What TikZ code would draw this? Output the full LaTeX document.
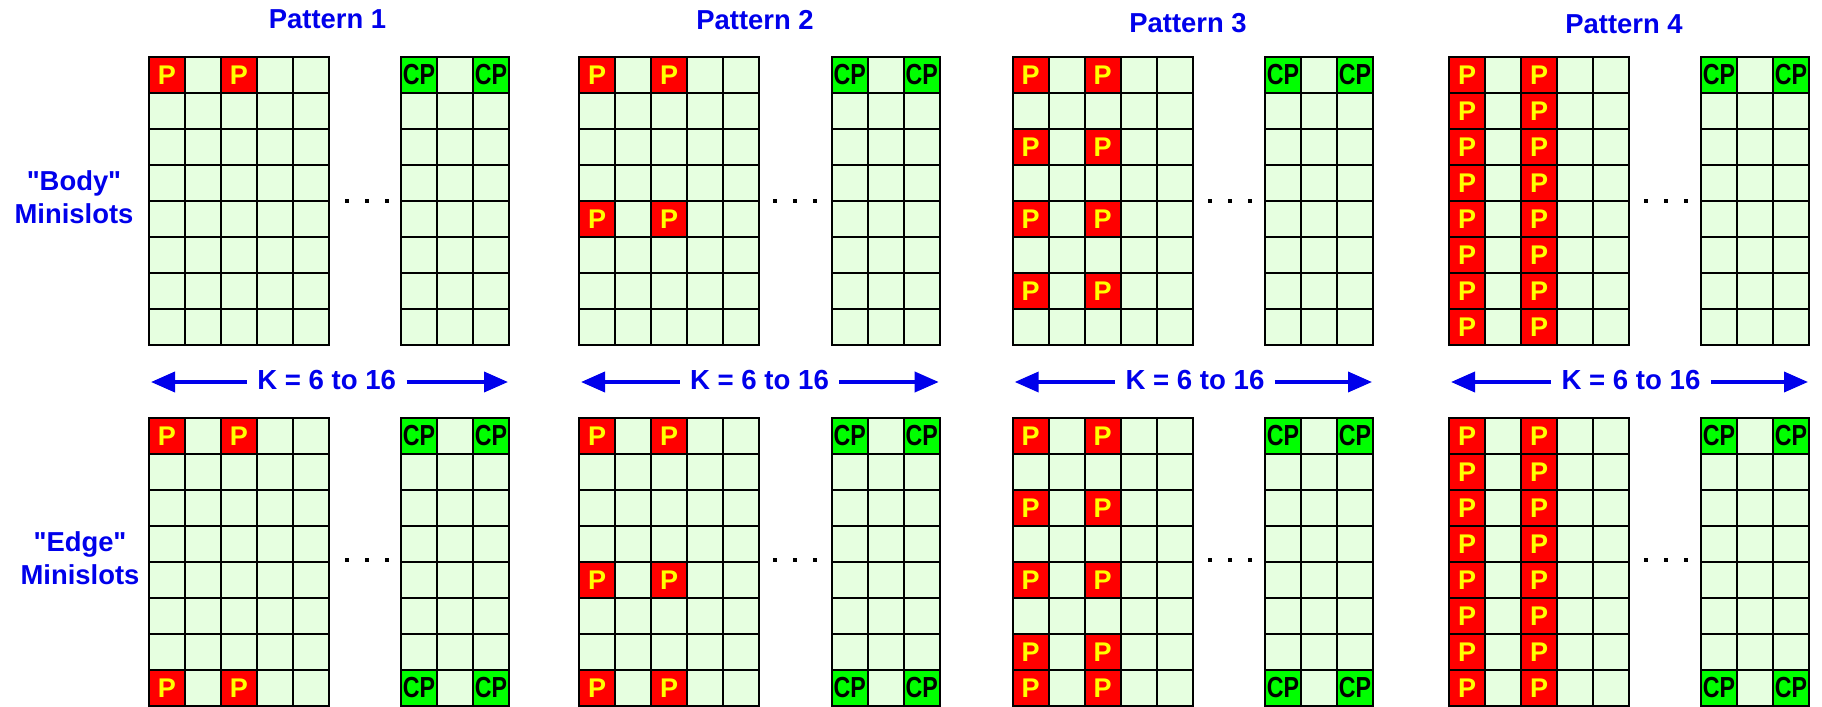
\documentclass[tikz,border=0pt]{standalone}
\usepackage{fontspec}
\setmainfont{Liberation Sans}[Ligatures=TeXOff]
\usepackage{graphicx}
\usetikzlibrary{arrows.meta}

\definecolor{slotgreen}{RGB}{230,255,224}
\definecolor{pred}{RGB}{255,0,0}
\definecolor{pyellow}{RGB}{255,255,0}
\definecolor{cpgreen}{RGB}{0,255,0}
\definecolor{kblue}{RGB}{0,0,235}

% one grid of minislots: x, y, columns
\newcommand{\slotgrid}[3]{%
  \fill[slotgreen] (#1,#2) rectangle ++(#3*36,288);
  \foreach \cc in {1,...,#3}{%
    \foreach \rr in {0,...,7}{%
      \draw[cellline] ({#1+(\cc-1)*36},{#2+\rr*36}) rectangle ++(36,36);}}}

\begin{document}
\begin{tikzpicture}[
    x=0.5pt, y=-0.5pt,
    cellline/.style={draw=black, line width=1pt},
    pcell/.style={draw=black, line width=1pt, fill=pred, text=pyellow,
                  inner sep=0pt, minimum width=18pt, minimum height=18pt,
                  font=\fontsize{13.5}{15}\selectfont\bfseries},
    cpcell/.style={draw=black, line width=1pt, fill=cpgreen, text=black,
                   inner sep=0pt, minimum width=18pt, minimum height=18pt,
                   font=\fontsize{14.5}{16}\selectfont\bfseries},
    title/.style={text=kblue, anchor=base, inner sep=0pt,
                  font=\fontsize{13.7}{16}\selectfont\bfseries},
    ktext/.style={text=kblue, anchor=base, inner ysep=0pt, inner xsep=5pt,
                  font=\fontsize{13.8}{16}\selectfont\bfseries},
    karrow/.style={-{Triangle[length=12pt, width=10pt]}, kblue, line width=1.85pt},
    sidelabel/.style={text=kblue, align=center, inner sep=0pt,
                      font=\fontsize{13.7}{16.3}\selectfont\bfseries}
  ]
  \useasboundingbox (0,0) rectangle (1822,707);

  % ---- Row labels ----
  \node[sidelabel] (body) at (74,197) {"Body"\\Minislots};
  \node[sidelabel] (edge) at (80,558) {"Edge"\\Minislots};

  % ---- Patterns ----
  \foreach \i/\lx/\rx/\tx/\ty/\kx/\dx/\toprows/\botrows in {
      1/149/401/327.5/28.3/326.7/366.7/{0}/{0,7},
      2/579/831.7/755/29.3/759.5/795/{0,4}/{0,4,7},
      3/1012.7/1265/1188/32.7/1195/1229.5/{0,2,4,6}/{0,2,4,6,7},
      4/1449/1701/1624/33.3/1631/1666/{0,...,7}/{0,...,7}}{
    \node[title] (t\i) at (\tx,\ty) {Pattern \i};

    % grids
    \slotgrid{\lx}{57}{5}
    \slotgrid{\rx}{57}{3}
    \slotgrid{\lx}{418}{5}
    \slotgrid{\rx}{418}{3}

    % P cells
    \foreach \r in \toprows{
      \foreach \c in {0,2}
        \node[pcell] (p\i-t\r-\c) at ({\lx+(\c+0.5)*36},{57+(\r+0.5)*36}) {P};}
    \foreach \r in \botrows{
      \foreach \c in {0,2}
        \node[pcell] (p\i-b\r-\c) at ({\lx+(\c+0.5)*36},{418+(\r+0.5)*36}) {P};}

    % CP cells
    \foreach \c in {0,2}{
      \node[cpcell] (cp\i-t0-\c) at ({\rx+(\c+0.5)*36},75) {\scalebox{0.8}[1]{CP}};
      \foreach \r in {0,7}
        \node[cpcell] (cp\i-b\r-\c) at ({\rx+(\c+0.5)*36},{418+(\r+0.5)*36})
          {\scalebox{0.8}[1]{CP}};}

    % dots
    \foreach \d in {-20,0,20}{
      \fill ({\dx+\d-2},199) rectangle ++(4,4);
      \fill ({\dx+\d-2},558) rectangle ++(4,4);}

    % K range arrow
    \coordinate (kl\i) at ({\lx+2},382);
    \coordinate (kr\i) at ({\rx+107},382);
    \node[ktext] (k\i) at (\kx,389) {K = 6 to 16};
    \draw[karrow] (k\i.west |- kl\i) -- (kl\i);
    \draw[karrow] (k\i.east |- kr\i) -- (kr\i);
  }
\end{tikzpicture}
\end{document}
